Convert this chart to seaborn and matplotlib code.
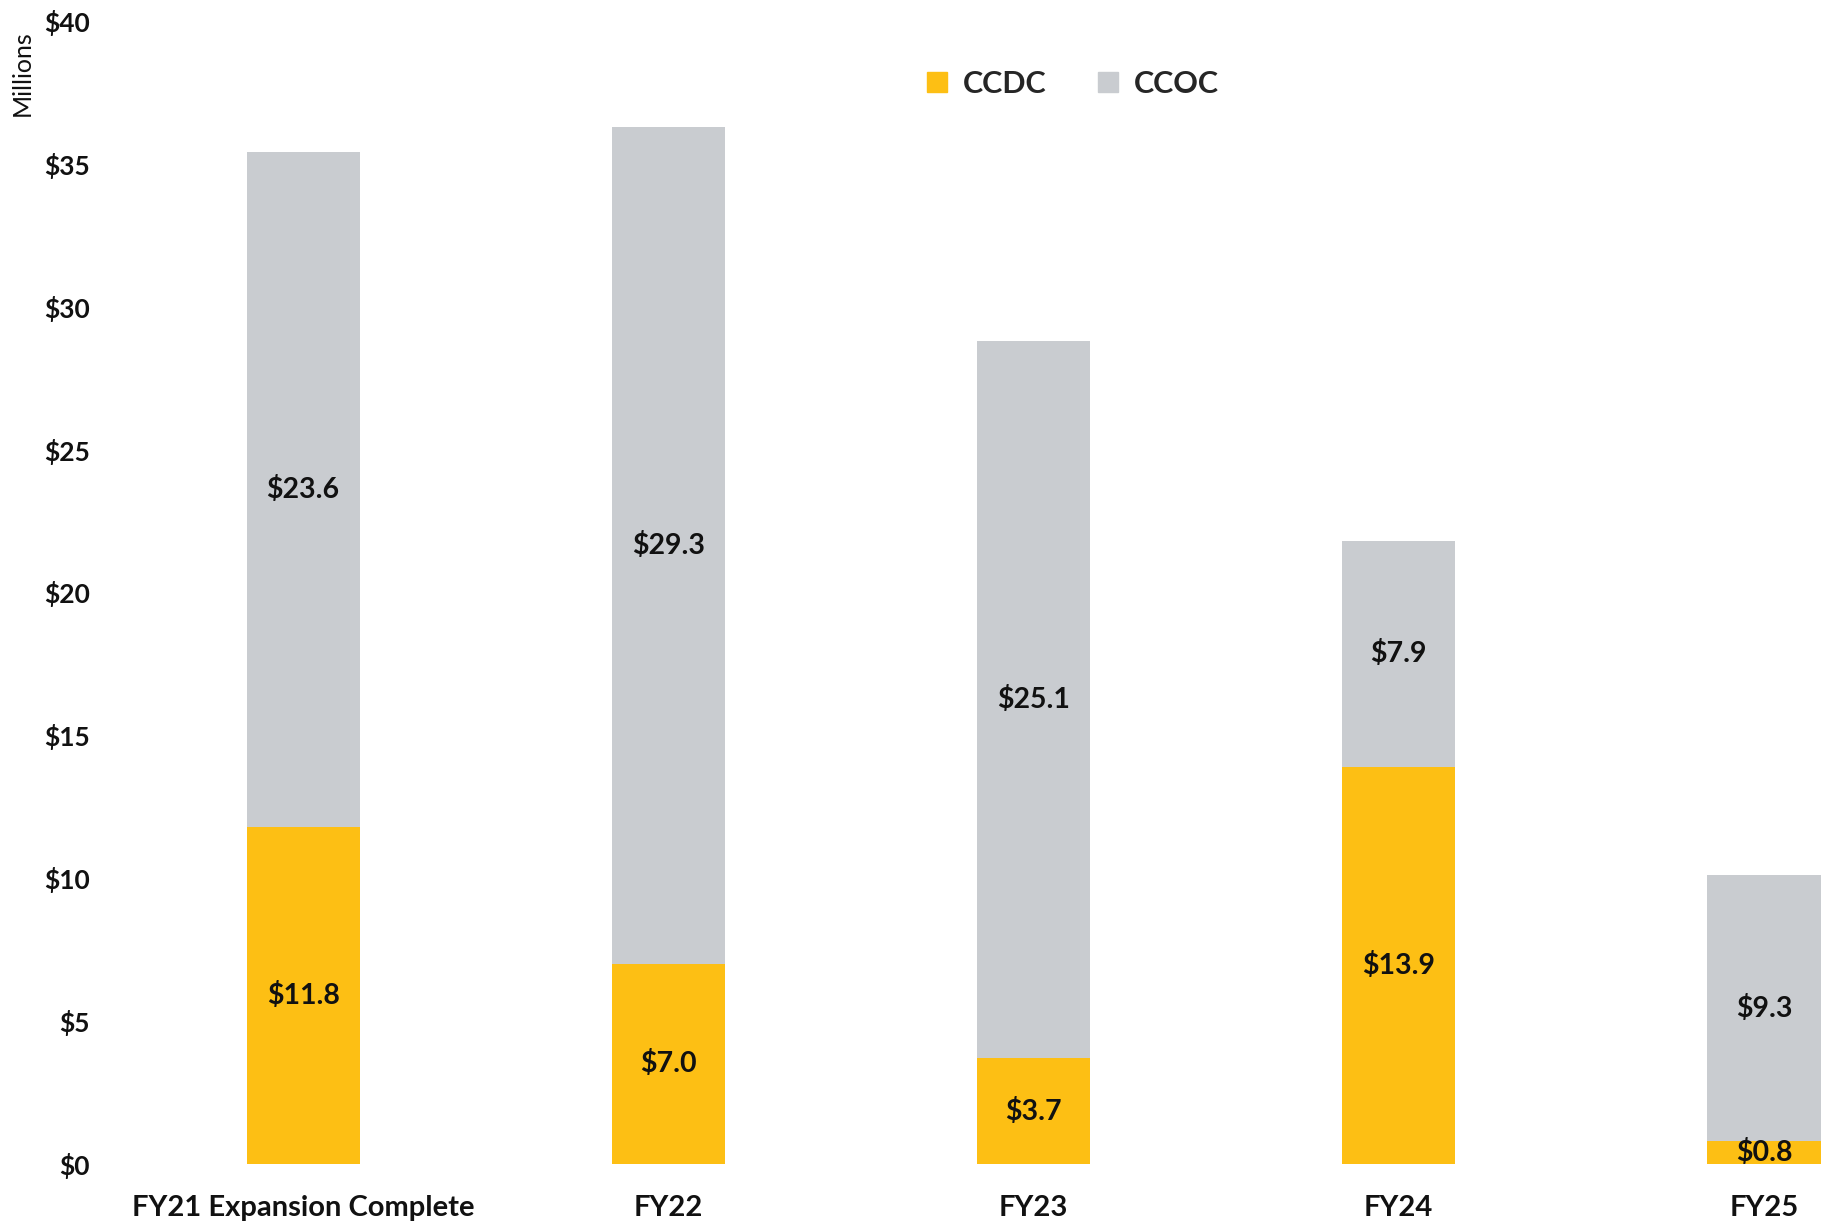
import matplotlib
matplotlib.use("Agg")
import matplotlib.pyplot as plt
import seaborn as sns
import pandas as pd
from matplotlib.lines import Line2D

# Funding by fiscal year, in millions of dollars
categories = ["FY21 Expansion Complete", "FY22", "FY23", "FY24", "FY25"]
ccdc = [11.8, 7.0, 3.7, 13.9, 0.8]
ccoc = [23.6, 29.3, 25.1, 7.9, 9.3]

YELLOW = "#FDBF14"
GRAY = "#C9CCD0"
FONT = "Lato"

sns.set_theme(style="white")
plt.rcParams["font.family"] = [FONT, "DejaVu Sans"]

df = pd.DataFrame({"cat": categories, "ccdc": ccdc, "ccoc": ccoc})
df["total"] = df["ccdc"] + df["ccoc"]

fig = plt.figure(figsize=(18.26, 12.25), dpi=100)
ax = fig.add_axes([0.066, 0.0498, 0.934, 0.9332])

# Stacked look: full total in gray, CCDC drawn over its lower part
sns.barplot(data=df, x="cat", y="total", color=GRAY, width=0.31,
            saturation=1, ax=ax, linewidth=0)
sns.barplot(data=df, x="cat", y="ccdc", color=YELLOW, width=0.31,
            saturation=1, ax=ax, linewidth=0)

for i, (a, b) in enumerate(zip(ccdc, ccoc)):
    ax.text(i, a / 2, f"${a:.1f}", ha="center", va="center",
            fontsize=20.5, fontweight="bold", color="#111111")
    ax.text(i, a + b / 2, f"${b:.1f}", ha="center", va="center",
            fontsize=20.5, fontweight="bold", color="#111111")

ax.set_ylim(0, 40)
ax.set_xlim(-0.5, 4.17)
ax.set_yticks(range(0, 41, 5))
ax.set_yticklabels([f"${v}" for v in range(0, 41, 5)])
ax.tick_params(axis="y", labelsize=19, length=0, pad=22)
ax.tick_params(axis="x", labelsize=21, length=0, pad=22)
for lbl in ax.get_xticklabels() + ax.get_yticklabels():
    lbl.set_fontweight("bold")
    lbl.set_color("#111111")
ax.set_xlabel("")
ax.set_ylabel("")
sns.despine(ax=ax, left=True, bottom=True)

fig.text(0.012, 0.940, "Millions", rotation=90, ha="center", va="center",
         fontsize=18, color="#111111")

handles = [
    Line2D([], [], marker="s", linestyle="", markersize=15,
           markerfacecolor=YELLOW, markeredgecolor=YELLOW, label="CCDC"),
    Line2D([], [], marker="s", linestyle="", markersize=15,
           markerfacecolor=GRAY, markeredgecolor=GRAY, label="CCOC"),
]
leg = ax.legend(handles=handles, loc="center", bbox_to_anchor=(0.556, 0.945),
                ncol=2, frameon=False, handletextpad=0.25, columnspacing=1.4,
                handlelength=1.2,
                prop={"family": FONT, "weight": "bold", "size": 22})

fig.savefig("out.png", dpi=100, facecolor="white")
